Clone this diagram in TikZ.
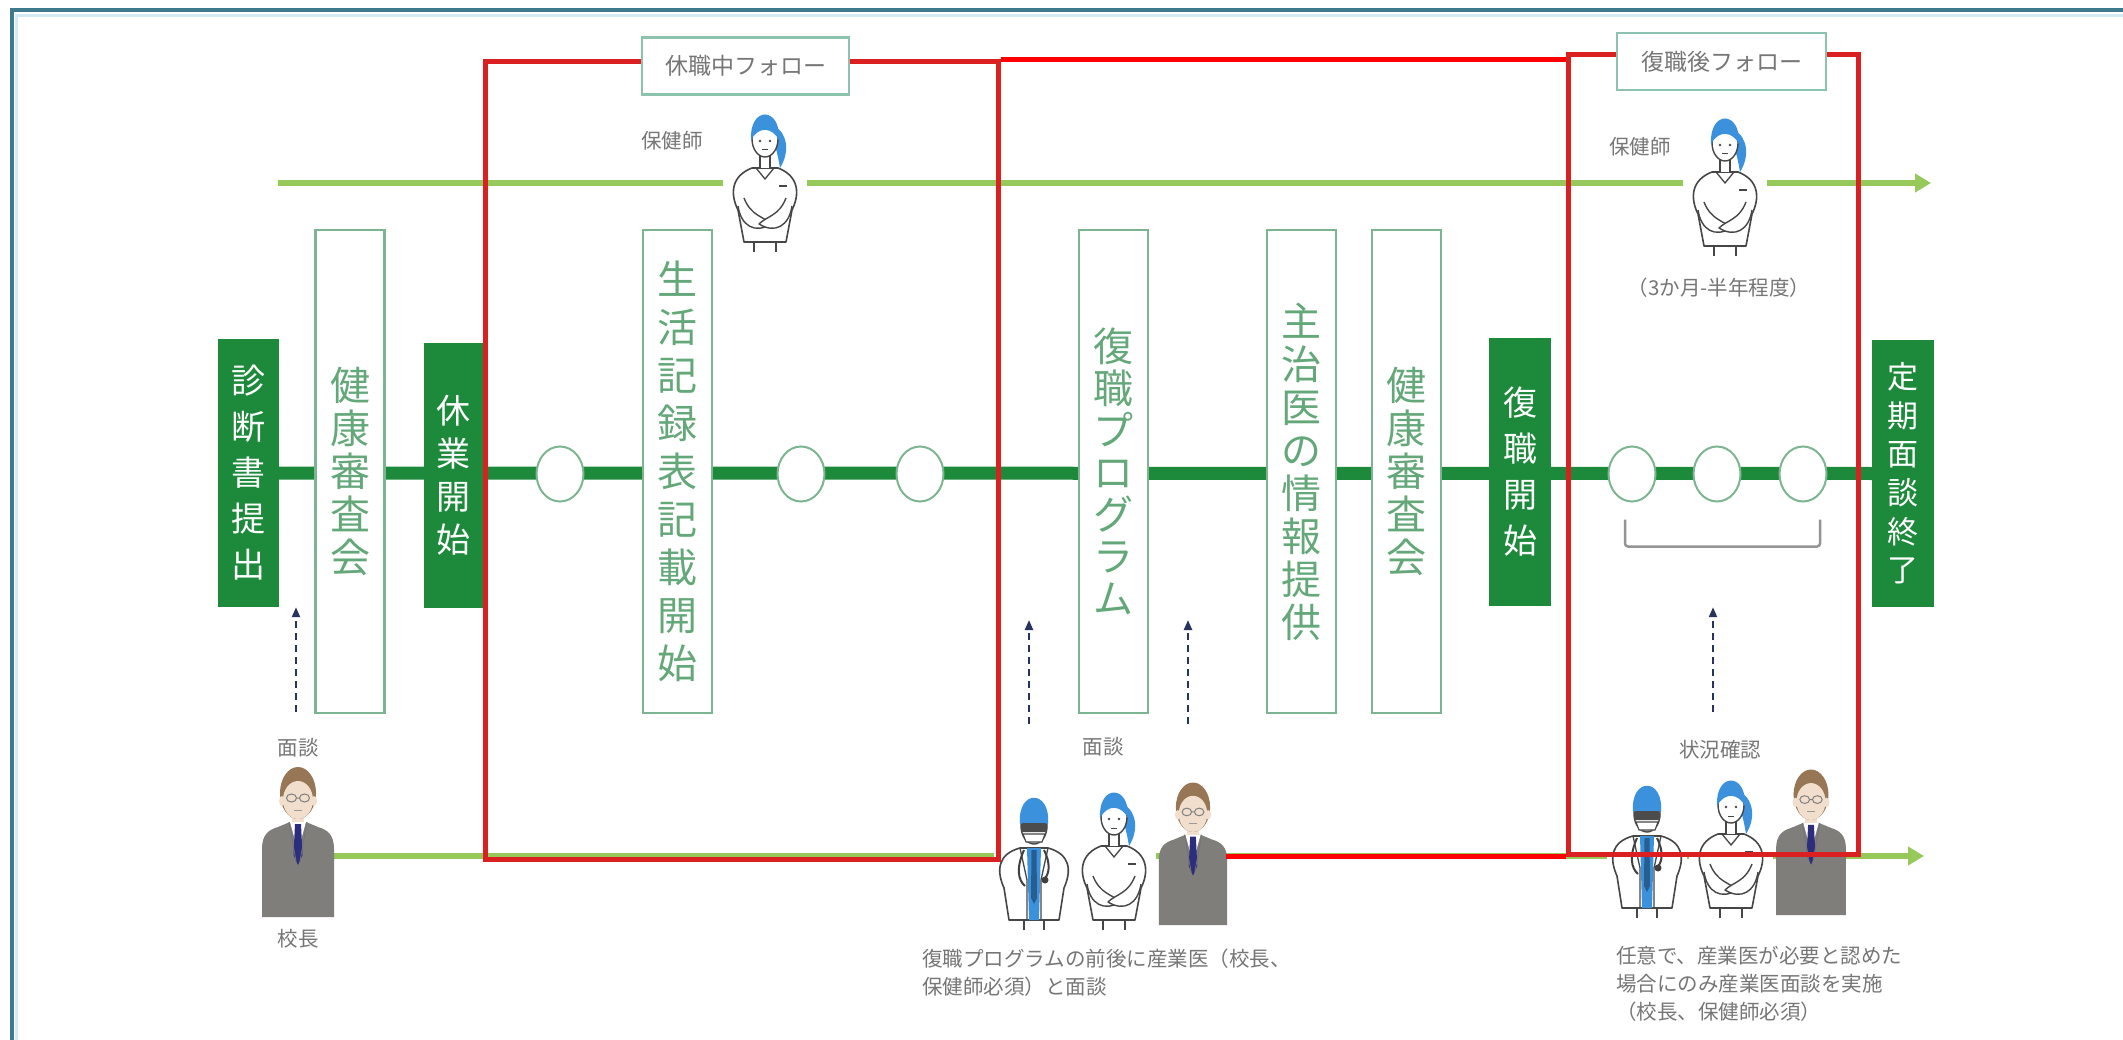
\documentclass[tikz,border=0pt]{standalone}
\usepackage{fontspec}
\setmainfont{Noto Sans CJK JP}
\usetikzlibrary{arrows.meta,shapes.geometric,calc}

\definecolor{frameteal}{RGB}{62,122,140}
\definecolor{framelight}{RGB}{212,234,244}
\definecolor{maingreen}{RGB}{28,138,58}
\definecolor{lightgreen}{RGB}{150,200,90}
\definecolor{boxedge}{RGB}{125,180,145}
\definecolor{boxtext}{RGB}{100,168,122}
\definecolor{followred}{RGB}{218,32,32}
\definecolor{linkred}{RGB}{255,0,0}
\definecolor{labelgray}{RGB}{118,118,118}
\definecolor{tagedge}{RGB}{140,195,175}
\definecolor{navy}{RGB}{40,50,95}
\definecolor{hairblue}{RGB}{60,145,220}
\definecolor{suitgray}{RGB}{128,126,122}
\definecolor{hairbrown}{RGB}{150,118,85}
\definecolor{skin}{RGB}{242,222,204}
\definecolor{inkgray}{RGB}{70,70,70}
\definecolor{tienavy}{RGB}{45,45,125}

\pgfdeclarelayer{paper}
\pgfdeclarelayer{back}
\pgfsetlayers{paper,back,main}

\tikzset{
  pale/.style={draw=boxedge, line width=2.5pt, fill=white, text=boxtext,
    minimum width=69pt, minimum height=483pt, inner sep=0pt, align=center},
  dark/.style={fill=maingreen, text=white, minimum width=61pt,
    minimum height=268pt, inner sep=0pt, align=center},
  stopmark/.style={ellipse, draw=boxedge, line width=2pt, fill=white,
    minimum width=47pt, minimum height=55pt, inner sep=0pt},
  followframe/.style={draw=followred, line width=5pt, inner sep=0pt},
  tagbox/.style={draw=tagedge, line width=2.5pt, fill=white, text=labelgray,
    font=\fontsize{23}{26}\selectfont, minimum width=207pt,
    minimum height=57pt, inner sep=0pt},
  smalllabel/.style={text=labelgray, font=\fontsize{20.5}{24}\selectfont, inner sep=0pt},
  caption/.style={text=labelgray, font=\fontsize{20.5}{28}\selectfont,
    inner sep=0pt, align=left},
  linkline/.style={draw=linkred, line width=5pt},
  timeline/.style={draw=maingreen, line width=13pt},
  supportline/.style={draw=lightgreen, line width=6pt, -{Triangle[length=16pt,width=18pt]}},
  meetarrow/.style={draw=navy, line width=2.2pt, dash pattern=on 7pt off 5pt,
    -{Triangle[length=10pt,width=8pt]}},
  bracketline/.style={draw=black!42, line width=2.5pt, rounded corners=3pt},
  % public health nurse: origin at the feet, figure grows upward
  nurse/.pic={
    \fill[white] (-42,0) rectangle (42,-146);
    \fill[hairblue] (9,-126) .. controls (24,-118) and (24,-98) .. (15,-84)
      .. controls (13,-96) and (11,-106) .. (7,-112) -- cycle;
    \draw[inkgray, line width=1.4pt] (-11,0) -- (-11,-12) (11,0) -- (11,-12);
    \draw[inkgray, line width=1.6pt, fill=white, line join=round]
      (-21,-10) -- (-27,-42) .. controls (-35,-58) and (-34,-76) .. (-13,-84)
      -- (13,-84) .. controls (34,-76) and (35,-58) .. (27,-42) -- (21,-10) -- cycle;
    \draw[inkgray, line width=1.3pt] (-9,-84) -- (0,-73) -- (9,-84);
    \draw[inkgray, line width=1.1pt] (14,-66) -- (22,-66);
    \draw[inkgray, line width=1.4pt, fill=white, line join=round]
      (-27,-46) .. controls (-24,-26) and (-10,-18) .. (6,-28)
      .. controls (-2,-36) and (-14,-36) .. (-21,-54);
    \draw[inkgray, line width=1.4pt, fill=white, line join=round]
      (27,-46) .. controls (24,-26) and (10,-18) .. (-6,-28)
      .. controls (2,-36) and (14,-36) .. (21,-54);
    \draw[inkgray, line width=1.3pt, fill=white] (-5,-84) -- (-5,-96) -- (5,-96) -- (5,-84);
    \draw[inkgray, line width=1.4pt, fill=white] (0,-113) ellipse [x radius=13, y radius=18];
    \fill[hairblue] (-14,-112) .. controls (-16,-146) and (16,-146) .. (14,-112)
      .. controls (8,-124) and (-6,-127) .. (-14,-112) -- cycle;
    \fill[inkgray] (-5,-111) circle (1.4) (5,-111) circle (1.4);
    \draw[inkgray, line width=1pt] (-3,-102) -- (3,-102);
  },
  % occupational physician
  doctor/.pic={
    \fill[white] (-40,0) rectangle (40,-140);
    \draw[inkgray, line width=1.4pt] (-10,0) -- (-10,-12) (10,0) -- (10,-12);
    \draw[inkgray, line width=1.6pt, fill=white, line join=round]
      (-25,-10) -- (-30,-42) .. controls (-38,-60) and (-36,-76) .. (-14,-82)
      -- (14,-82) .. controls (36,-76) and (38,-60) .. (30,-42) -- (25,-10) -- cycle;
    \fill[hairblue] (-7,-82) -- (7,-82) -- (5,-10) -- (-5,-10) -- cycle;
    \fill[hairblue!65!black] (-2.5,-80) -- (2.5,-80) -- (3,-32) -- (0,-26) -- (-3,-32) -- cycle;
    \draw[inkgray, line width=1.3pt] (-14,-82) -- (-7,-50) -- (-7,-10) (14,-82) -- (7,-50) -- (7,-10);
    \draw[black!75, line width=2pt] (-10,-80) .. controls (-18,-62) and (-16,-50) .. (-9,-44);
    \draw[black!75, line width=2pt] (10,-80) .. controls (17,-66) and (15,-56) .. (11,-52);
    \fill[black!75] (11,-50) circle (3.5);
    \draw[inkgray, line width=1.4pt, fill=white] (0,-104) ellipse [x radius=13, y radius=18];
    \fill[hairblue] (-14,-106) .. controls (-17,-141) and (17,-141) .. (14,-106) -- cycle;
    \fill[black!70, rounded corners=2pt] (-13,-107) rectangle (13,-98);
    \draw[inkgray, line width=1.1pt, fill=white] (-11,-96) -- (11,-96) -- (8,-88) -- (-8,-88) -- cycle;
  },
  % school principal in a grey suit
  principal/.pic={
    \fill[suitgray] (-36,0) -- (-36,-68) .. controls (-36,-82) and (-30,-87) .. (-20,-90)
      -- (-8,-95) -- (8,-95) -- (20,-90) .. controls (30,-87) and (36,-82) .. (36,-68)
      -- (36,0) -- cycle;
    \fill[skin] (-6,-101) rectangle (6,-92);
    \fill[white] (-8,-95) -- (8,-95) -- (0,-66) -- cycle;
    \fill[tienavy] (-3,-93) -- (3,-93) -- (4.5,-62) -- (0,-52) -- (-4.5,-62) -- cycle;
    \draw[black!55, line width=0.8pt] (-9,-95) -- (-2,-56) (9,-95) -- (2,-56);
    \fill[hairbrown] (0,-124) ellipse [x radius=18, y radius=26];
    \fill[skin] (-16,-116) ellipse [x radius=3, y radius=5] (16,-116) ellipse [x radius=3, y radius=5];
    \fill[skin] (0,-117) ellipse [x radius=15, y radius=19];
    \draw[black!50, line width=1pt] (-6.5,-119) ellipse [x radius=5, y radius=4]
      (6.5,-119) ellipse [x radius=5, y radius=4] (-1.5,-119) -- (1.5,-119);
    \draw[black!40, line width=0.8pt] (-4,-107) -- (4,-107);
  },
}

\begin{document}
\begin{tikzpicture}[x=1pt, y=-1pt]
\useasboundingbox (0,0) rectangle (2123,1040);

% ---- paper and frame
\begin{pgfonlayer}{paper}
  \fill[white] (0,0) rectangle (2123,1040);
  \draw[framelight, line width=3pt] (16,1040) -- (16,15.5) -- (2123,15.5);
  \draw[frameteal, line width=4pt] (11.5,1040) -- (11.5,10.5) -- (2123,10.5);
\end{pgfonlayer}

% ---- stages along the timeline
\node[dark, font=\fontsize{34}{46}\selectfont] (shindan) at (248.5,473) {診\\断\\書\\提\\出};
\node[pale, font=\fontsize{40}{43}\selectfont] (shinsa1) at (350,471.5) {健\\康\\審\\査\\会};
\node[dark, minimum width=59pt, minimum height=265pt, font=\fontsize{34}{43}\selectfont] (kyugyo) at (453.5,475.5) {休\\業\\開\\始};
\node[pale, font=\fontsize{40}{48}\selectfont] (seikatsu) at (677.5,471.5) {生\\活\\記\\録\\表\\記\\載\\開\\始};
\node[pale, font=\fontsize{40}{42}\selectfont] (program) at (1113.5,471.5) {復\\職\\プ\\ロ\\グ\\ラ\\ム};
\node[pale, font=\fontsize{40}{43}\selectfont] (joho) at (1301.5,471.5) {主\\治\\医\\の\\情\\報\\提\\供};
\node[pale, font=\fontsize{40}{43}\selectfont] (shinsa2) at (1406.5,471.5) {健\\康\\審\\査\\会};
\node[dark, minimum width=62pt, font=\fontsize{34}{46}\selectfont] (fukushoku) at (1520,472) {復\\職\\開\\始};
\node[dark, minimum width=62pt, minimum height=267pt, font=\fontsize{31}{38.6}\selectfont] (teiki) at (1903,473.5) {定\\期\\面\\談\\終\\了};

% ---- follow-up check points
\node[stopmark] (sa) at (560,474) {};
\node[stopmark] (sb) at (801,474) {};
\node[stopmark] (sc) at (920,474) {};
\node[stopmark] (ra) at (1632,474) {};
\node[stopmark] (rb) at (1717,474) {};
\node[stopmark] (rc) at (1803,474) {};
\draw[bracketline] ($(ra.south)+(-7,17)$) -- ++(0,27) -- ($(rc.south)+(17,44)$) -- ++(0,-27);

% ---- support lines
\coordinate (upstart) at (278,183);
\coordinate (upend) at (1931,183);
\coordinate (lowstart) at (334,856);
\coordinate (lowend) at (1924,856);
\begin{pgfonlayer}{back}
  \draw[timeline] (shindan.east) -- (teiki.west);
  \draw[supportline] (upstart) -- (upend);
  \draw[supportline] (lowstart) -- (lowend);
\end{pgfonlayer}

% ---- people
\pic at (765,252) {nurse};
\pic at (1725,256) {nurse};
\pic at (298,917) {principal};
\pic at (1114,930) {nurse};
\pic at (1034,930) {doctor};
\pic[scale=0.95] at (1193,925) {principal};
\pic at (1731,918) {nurse};
\pic at (1647,918) {doctor};
\pic[scale=0.97] at (1811,915) {principal};

% ---- labels
\node[smalllabel] (hoken1) at (672,141) {保健師};
\node[smalllabel] (hoken2) at (1640,147) {保健師};
\node[smalllabel] (period) at (1719,288) {（3か月-半年程度）};
\node[smalllabel] (mendan1) at (298,748) {面談};
\node[smalllabel] (kocho) at (298,939) {校長};
\node[smalllabel] (mendan2) at (1103,747) {面談};
\node[smalllabel] (jokyo) at (1720,750) {状況確認};
\node[caption, anchor=north west] (capmid) at (922,949) {復職プログラムの前後に産業医（校長、\\保健師必須）と面談};
\node[caption, anchor=north west] (capright) at (1616,946) {任意で、産業医が必要と認めた\\場合にのみ産業医面談を実施\\（校長、保健師必須）};

% ---- interview arrows
\coordinate (m1tail) at (296,712);
\coordinate (m2tail) at (1029,724);
\coordinate (m2head) at (1029,620);
\coordinate (m3tail) at (1188,724);
\coordinate (m3head) at (1188,620);
\coordinate (m4tail) at (1713,712);
\draw[meetarrow] (m1tail) -- (m1tail |- shindan.south);
\draw[meetarrow] (m2tail) -- (m2head);
\draw[meetarrow] (m3tail) -- (m3head);
\draw[meetarrow] (m4tail) -- (m4tail |- teiki.south);

% ---- follow-up periods
\node[followframe, minimum width=513pt, minimum height=797pt] (followA) at (741.5,460.5) {};
\node[followframe, minimum width=290pt, minimum height=799pt] (followB) at (1713,454.5) {};
\draw[linkline] (followA.north east) -- (followA.north east -| followB.west);
\coordinate (groupedge) at (1226,856);
\draw[linkline] (groupedge) -- (groupedge -| followB.west);
\node[tagbox] (tagA) at (745.5,66) {休職中フォロー};
\node[tagbox, minimum width=209pt] (tagB) at (1721.5,61.5) {復職後フォロー};
\end{tikzpicture}
\end{document}
